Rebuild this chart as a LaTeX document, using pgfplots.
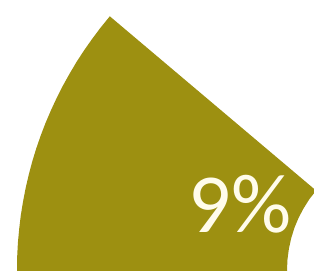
\documentclass[border=0pt]{standalone}
\usepackage{fontspec}
\setmainfont{Carlito}
\usepackage{pgfplots}
\pgfplotsset{compat=1.18}
\definecolor{olivepie}{RGB}{157,144,17}
\definecolor{labelwhite}{RGB}{255,252,235}
\begin{document}
\begin{tikzpicture}
\useasboundingbox (0,0) rectangle (314pt,271pt);
\begin{axis}[
  at={(0,0)}, anchor=south west,
  width=314pt, height=271pt, scale only axis,
  xmin=0, xmax=314, ymin=0, ymax=271,
  hide axis, clip=true,
]
% 9% slice of a ring (outer radius 393, inner radius 123, centre (410,1))
\addplot[draw=none, fill=olivepie] coordinates {
 (109.8,254.7) (100.3,243.0) (92.1,232.0) (84.2,220.8) (76.7,209.3)
 (69.7,197.5) (63.0,185.5) (56.8,173.3) (51.0,160.8) (45.6,148.2)
 (40.7,135.4) (36.2,122.4) (32.2,109.3) (28.7,96.1) (25.6,82.7)
 (23.0,69.2) (20.8,55.7) (19.2,42.1) (17.9,28.4) (17.2,14.7) (17,1) (17,-5)
 (287,-5) (287,1) (287.5,11.7) (288.9,22.4) (291.2,32.8) (294.4,43.1)
 (298.5,53.0) (303.5,62.5) (309.2,71.6) (316.1,80.4)
} -- cycle;
\node[anchor=base, text=labelwhite, font=\fontsize{84}{84}\selectfont, inner sep=0pt]
  at (axis cs:240,38) {9\%};
\end{axis}
\end{tikzpicture}
\end{document}
